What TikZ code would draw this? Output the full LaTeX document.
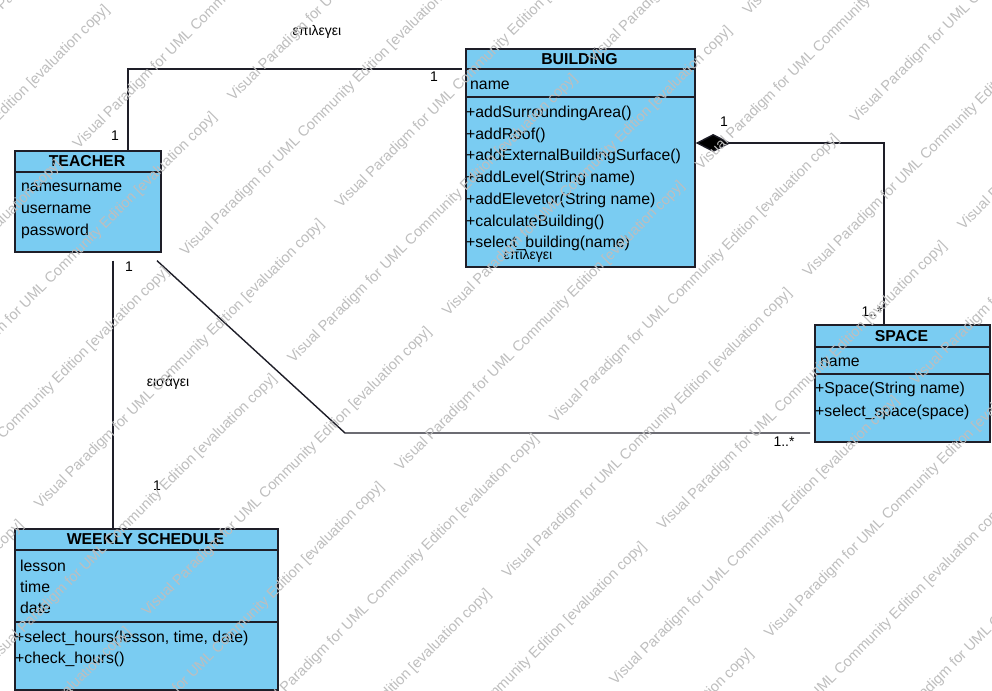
\documentclass[tikz,border=0pt]{standalone}
\usepackage{fontspec}
\setmainfont{Liberation Sans}
\usetikzlibrary{arrows.meta,calc}

\definecolor{classfill}{RGB}{122,204,242}
\definecolor{edge}{RGB}{30,30,40}
\definecolor{wmark}{RGB}{190,190,190}

\begin{document}
\begin{tikzpicture}[x=1pt,y=-1pt,
  box/.style={draw=edge, line width=1.7pt, fill=classfill, rectangle, inner sep=0, anchor=north west},
  sep/.style={draw=edge, line width=1.3pt},
  hdr/.style={font=\fontsize{15.8}{18}\selectfont\bfseries, anchor=base, inner sep=0},
  item/.style={font=\fontsize{15.8}{18}\selectfont, anchor=base west, inner sep=0},
  mult/.style={font=\fontsize{14}{16}\selectfont, anchor=base, inner sep=0},
  rel/.style={font=\fontsize{14}{16}\selectfont, anchor=base, inner sep=0},
  conn/.style={draw=edge, line width=1.4pt},
  wm/.style={font=\fontsize{14.6}{16}\selectfont, text=wmark, rotate=45, anchor=base west, inner sep=0}
]
\fill[white] (0,0) rectangle (992,690);
\useasboundingbox (0,0) rectangle (992,690);

% ---------- classes ----------
% TEACHER
\node[box, minimum width=146pt, minimum height=101pt] (teacher) at (14,150) {};
\draw[sep] ($(teacher.north west)+(0,22)$) -- ($(teacher.north east)+(0,22)$);
\node[hdr] (teacherH) at (87,166.5) {TEACHER};
\node[item] (t1) at (21,191) {namesurname};
\node[item] (t2) at (21,213) {username};
\node[item] (t3) at (21,235) {password};

% BUILDING
\node[box, minimum width=229pt, minimum height=218pt] (building) at (465,48) {};
\draw[sep] ($(building.north west)+(0,21)$) -- ($(building.north east)+(0,21)$);
\draw[sep] ($(building.north west)+(0,49)$) -- ($(building.north east)+(0,49)$);
\node[hdr] (buildingH) at (579.5,64.5) {BUILDING};
\node[item] (b0) at (470,89.5) {name};
\node[item] (b1) at (466,117.5) {+addSurroundingArea()};
\node[item] (b2) at (466,139.2) {+addRoof()};
\node[item] (b3) at (466,160.9) {+addExternalBuildingSurface()};
\node[item] (b4) at (466,182.6) {+addLevel(String name)};
\node[item] (b5) at (466,204.3) {+addElevetor(String name)};
\node[item] (b6) at (466,226.0) {+calculateBuilding()};
\node[item] (b7) at (466,247.7) {+select\_building(name)};

% SPACE
\node[box, minimum width=175pt, minimum height=117pt] (space) at (814,324) {};
\draw[sep] ($(space.north west)+(0,23)$) -- ($(space.north east)+(0,23)$);
\draw[sep] ($(space.north west)+(0,50)$) -- ($(space.north east)+(0,50)$);
\node[hdr] (spaceH) at (901.5,341.5) {SPACE};
\node[item] (s0) at (820,366.5) {name};
\node[item] (s1) at (815,393.5) {+Space(String name)};
\node[item] (s2) at (815,416) {+select\_space(space)};

% WEEKLY SCHEDULE
\node[box, minimum width=263pt, minimum height=161pt] (weekly) at (14,528) {};
\draw[sep] ($(weekly.north west)+(0,22)$) -- ($(weekly.north east)+(0,22)$);
\draw[sep] ($(weekly.north west)+(0,94)$) -- ($(weekly.north east)+(0,94)$);
\node[hdr] (weeklyH) at (145.5,544.5) {WEEKLY SCHEDULE};
\node[item] (w1) at (20,571.5) {lesson};
\node[item] (w2) at (20,592.5) {time};
\node[item] (w3) at (20,613.5) {date};
\node[item] (w4) at (15,642.5) {+select\_hours(lesson, time, date)};
\node[item] (w5) at (15,663.5) {+check\_hours()};

% ---------- associations ----------
\coordinate (tTop)  at ([xshift=114pt]teacher.north west);
\coordinate (bLeft) at ([xshift=-3pt,yshift=-21pt]building.north west);
\draw[conn] (tTop) |- (bLeft);
\node[mult] (m1) at (115,140) {1};
\node[mult] (m2) at (434,82) {1};
\node[rel]  (r1) at (317,36) {επιλεγει};

\coordinate (bRight) at ([yshift=-95pt]building.north east);
\coordinate (sTop)   at ([xshift=70pt]space.north west);
\draw[conn, -{Diamond[length=35pt,width=18pt,fill=black]}] (sTop) |- (bRight);
\node[mult] (m3) at (724,127) {1};
\node[mult] (m4) at (872,316) {1..*};

\coordinate (tBot1) at ([xshift=99pt,yshift=-8pt]teacher.south west);
\coordinate (wTop)  at ([xshift=99pt]weekly.north west);
\draw[conn] (tBot1) -- (wTop);
\node[mult] (m5) at (129,271) {1};
\node[mult] (m6) at (157,490) {1};
\node[rel]  (r2) at (168,386) {εισάγει};

\coordinate (tBot2) at ([xshift=143pt,yshift=-8pt]teacher.south west);
\coordinate (bend)  at (345,433);
\coordinate (sLeft) at ([xshift=-4pt,yshift=-109pt]space.north west);
\draw[conn] (tBot2) -- (bend) -- (sLeft);
\node[mult] (m7) at (784,446) {1..*};
\node[rel]  (r3) at (528,259) {επιλεγει};

% ---------- evaluation watermark ----------
\begin{scope}
\clip (0,0) rectangle (992,690);
\foreach \k in {0,...,16}{
  \pgfmathsetmacro{\tt}{161+75.9*(\k-2)}
  \pgfmathsetmacro{\sz}{-50+143*mod(\k,2)}
  \foreach \n in {-3,...,2}{
    \pgfmathsetmacro{\ss}{\sz+425*\n}
    \pgfmathsetmacro{\px}{(\ss+\tt)*0.70711}
    \pgfmathsetmacro{\py}{(\tt-\ss)*0.70711}
    \node[wm] (wm-\k-\n) at (\px,\py) {Visual Paradigm for UML Community Edition [evaluation copy]};
  }
}
\end{scope}
\end{tikzpicture}
\end{document}
